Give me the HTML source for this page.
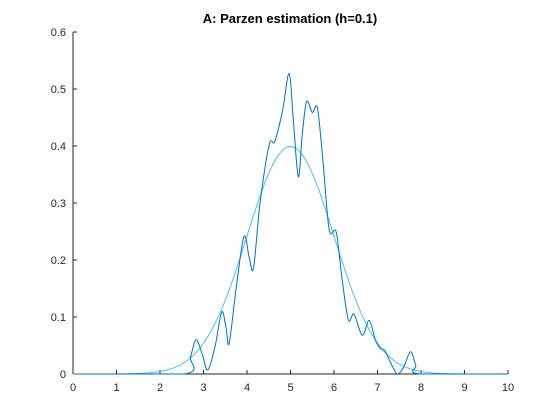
<!DOCTYPE html>
<html><head><meta charset="utf-8">
<style>
html,body{margin:0;padding:0;background:#fff;}
svg{display:block;font-family:"Liberation Sans",Arial,sans-serif;}
</style></head>
<body>
<svg id="chart" width="560" height="420" viewBox="0 0 560 420" xmlns="http://www.w3.org/2000/svg">
<text x="290" y="23" text-anchor="middle" font-size="13" font-weight="bold" fill="#000">A: Parzen estimation (h=0.1)</text>
<g id="axes"></g>
<g id="series"></g>
</svg>
<script>
const xTicks = [0,1,2,3,4,5,6,7,8,9,10];
const yTicks = [0,0.1,0.2,0.3,0.4,0.5,0.6];
const yTickLabels = ["0","0.1","0.2","0.3","0.4","0.5","0.6"];
const parzenX = [0,2.55,2.7,2.83,2.97,3.1,3.27,3.42,3.52,3.59,3.75,3.93,4.05,4.15,4.3,4.51,4.64,4.82,4.97,5.07,5.18,5.27,5.37,5.5,5.62,5.75,5.89,6.05,6.18,6.33,6.46,6.65,6.81,6.95,7.06,7.17,7.3,7.46,7.6,7.76,7.88,7.98,10];
const parzenY = [0,0,0.03,0.06,0.035,0.007,0.05,0.109,0.08,0.054,0.15,0.241,0.205,0.186,0.3,0.402,0.408,0.463,0.527,0.44,0.346,0.42,0.478,0.459,0.466,0.37,0.253,0.249,0.17,0.095,0.105,0.068,0.094,0.06,0.045,0.041,0.02,0,0.012,0.039,0.015,0,0];
const normalMean = 5;
const normalSigma = 1;

const X0=73,X1=508,Y0=374,Y1=32;
const sx=v=>X0+(v-0)/(10-0)*(X1-X0);
const sy=v=>Y0-(v-0)/(0.6-0)*(Y0-Y1);
const NS="http://www.w3.org/2000/svg";
const axes=document.getElementById('axes');
const series=document.getElementById('series');
function mk(tag,attrs,parent){const e=document.createElementNS(NS,tag);for(const k in attrs)e.setAttribute(k,attrs[k]);parent.appendChild(e);return e;}

const xa=mk('line',{x1:X0,y1:Y0,x2:X1,y2:Y0,stroke:'#262626','stroke-width':1},axes);


const ya=mk('line',{x1:X0,y1:Y0,x2:X0,y2:Y1,stroke:'#262626','stroke-width':1},axes);



xTicks.forEach(t=>{
  const x=sx(t);
  const tk=mk('line',{x1:x,y1:Y0,x2:x,y2:Y0-4,stroke:'#262626','stroke-width':1},axes);
  
  
  const lb=mk('text',{x:x,y:Y0+17,'text-anchor':'middle','font-size':11,fill:'#262626'},axes);
  lb.textContent=String(t);
  
  
});
yTicks.forEach((t,i)=>{
  const y=sy(t);
  const tk=mk('line',{x1:X0,y1:y,x2:X0+4,y2:y,stroke:'#262626','stroke-width':1},axes);
  
  
  const lb=mk('text',{x:X0-7,y:y+4,'text-anchor':'end','font-size':11,fill:'#262626'},axes);
  lb.textContent=yTickLabels[i];
  
  
});

let nd='';
for(let i=0;i<=400;i++){
  const x=i*10/400;
  const y=Math.exp(-0.5*Math.pow((x-normalMean)/normalSigma,2))/(normalSigma*Math.sqrt(2*Math.PI));
  nd+=(i?'L':'M')+sx(x).toFixed(2)+','+sy(y).toFixed(2);
}
const np=mk('path',{d:nd,fill:'none',stroke:'#4DBEEE','stroke-width':1},series);



const pts=parzenX.map((x,i)=>[sx(x),sy(parzenY[i])]);
let pd='M'+pts[0][0]+','+pts[0][1];
for(let i=0;i<pts.length-1;i++){
  const p0=pts[Math.max(0,i-1)],p1=pts[i],p2=pts[i+1],p3=pts[Math.min(pts.length-1,i+2)];
  const t=0.5/3;
  let c1=[p1[0]+(p2[0]-p0[0])*t,p1[1]+(p2[1]-p0[1])*t];
  let c2=[p2[0]-(p3[0]-p1[0])*t,p2[1]-(p3[1]-p1[1])*t];
  c1[1]=Math.min(c1[1],Y0);c2[1]=Math.min(c2[1],Y0);
  pd+='C'+c1[0].toFixed(2)+','+c1[1].toFixed(2)+' '+c2[0].toFixed(2)+','+c2[1].toFixed(2)+' '+p2[0].toFixed(2)+','+p2[1].toFixed(2);
}
const pp=mk('path',{d:pd,fill:'none',stroke:'#0072BD','stroke-width':1},series);


</script>
</body></html>
